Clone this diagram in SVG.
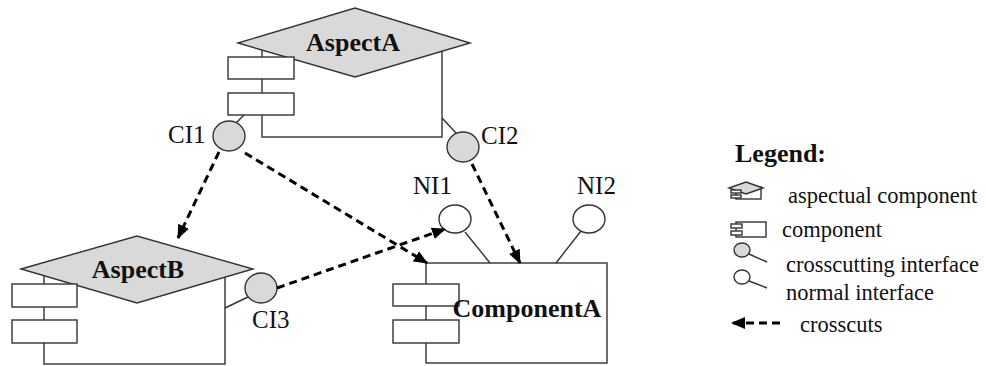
<svg xmlns="http://www.w3.org/2000/svg" width="986" height="366" viewBox="0 0 986 366">
<defs>
<style>
.body{fill:#fff;stroke:#333;stroke-width:1.4}
.tab{fill:#fff;stroke:#333;stroke-width:1.4}
.dia{fill:#d9d9d9;stroke:#333;stroke-width:1.4}
.ci{fill:#d9d9d9;stroke:#333;stroke-width:1.4}
.ni{fill:#fff;stroke:#333;stroke-width:1.4}
.stub{stroke:#333;stroke-width:1.4;fill:none}
.dash{stroke:#000;stroke-width:3;stroke-dasharray:8 5;fill:none}
text{font-family:'Liberation Serif','Times New Roman',serif;fill:#111}
.bold{font-weight:bold;font-size:26px}
.lbl{font-size:25px}
.leg{font-size:22.5px}
</style>
<marker id="ah" viewBox="0 0 14 12" refX="13" refY="6" markerWidth="14" markerHeight="12" markerUnits="userSpaceOnUse" orient="auto">
<path d="M0,0 L14,6 L0,12 z" fill="#000"/>
</marker>
</defs>
<rect width="986" height="366" fill="#fff"/>

<g id="aspectA">
<rect class="body" x="262" y="43" width="180" height="94"/>
<polygon class="dia" points="238,43 355,8 470,43 355,77"/>
<rect class="tab" x="228" y="57" width="66" height="22"/>
<rect class="tab" x="228" y="93" width="66" height="22"/>
<text class="bold" x="353" y="51" text-anchor="middle">AspectA</text>
</g>

<g id="aspectB">
<rect class="body" x="44" y="269" width="181" height="95"/>
<polygon class="dia" points="21,269 137,236 253,269 137,303"/>
<rect class="tab" x="12" y="284" width="65" height="23"/>
<rect class="tab" x="12" y="320" width="65" height="23"/>
<text class="bold" x="138" y="278" text-anchor="middle">AspectB</text>
</g>

<g id="componentA">
<rect class="body" x="426" y="263" width="181" height="100"/>
<rect class="tab" x="393" y="284" width="66" height="22"/>
<rect class="tab" x="393" y="320" width="66" height="23"/>
<text class="bold" x="527" y="317" text-anchor="middle">ComponentA</text>
</g>

<g id="CI1">
<line class="stub" x1="236" y1="123" x2="244" y2="115"/>
<ellipse class="ci" cx="229" cy="136" rx="16" ry="15"/>
<text class="lbl" x="168" y="143">CI1</text>
</g>

<g id="CI2">
<line class="stub" x1="442" y1="118" x2="457" y2="134"/>
<ellipse class="ci" cx="463" cy="147" rx="16" ry="15"/>
<text class="lbl" x="481" y="144">CI2</text>
</g>

<g id="CI3">
<line class="stub" x1="225" y1="308" x2="248" y2="297"/>
<ellipse class="ci" cx="261" cy="288" rx="16" ry="15"/>
<text class="lbl" x="252" y="328">CI3</text>
</g>

<g id="NI1">
<line class="stub" x1="465" y1="232" x2="490" y2="263"/>
<ellipse class="ni" cx="455" cy="219" rx="16" ry="14"/>
<text class="lbl" x="413" y="194">NI1</text>
</g>

<g id="NI2">
<line class="stub" x1="581" y1="231" x2="556" y2="263"/>
<ellipse class="ni" cx="589" cy="219" rx="16" ry="14"/>
<text class="lbl" x="577" y="194">NI2</text>
</g>

<g id="connectors">
<line class="dash" x1="219" y1="152" x2="178" y2="238" marker-end="url(#ah)"/>
<line class="dash" x1="245" y1="153" x2="427" y2="263" marker-end="url(#ah)"/>
<line class="dash" x1="472" y1="164" x2="520" y2="263" marker-end="url(#ah)"/>
<line class="dash" x1="277" y1="288" x2="445" y2="229" marker-end="url(#ah)"/>
</g>

<g id="legend">
<text class="bold" x="735" y="162">Legend:</text>
<g id="legend-aspectual">
<rect class="body" x="736" y="187" width="25" height="12"/>
<polygon class="dia" points="729,188 746,182 763,188 746,194"/>
<rect class="tab" x="731" y="190" width="10" height="3"/>
<rect class="tab" x="731" y="195" width="10" height="3"/>
<text class="leg" x="788" y="203">aspectual component</text>
</g>
<g id="legend-component">
<rect class="body" x="736" y="222" width="30" height="15"/>
<rect class="tab" x="731" y="224" width="11" height="4"/>
<rect class="tab" x="731" y="231" width="11" height="4"/>
<text class="leg" x="782" y="237">component</text>
</g>
<g id="legend-ci">
<line class="stub" x1="749" y1="254" x2="767" y2="262"/>
<ellipse class="ci" cx="742" cy="250" rx="8" ry="7"/>
<text class="leg" x="786" y="272">crosscutting interface</text>
</g>
<g id="legend-ni">
<line class="stub" x1="749" y1="281" x2="767" y2="288"/>
<ellipse class="ni" cx="742" cy="277" rx="8" ry="7"/>
<text class="leg" x="786" y="300">normal interface</text>
</g>
<g id="legend-crosscuts">
<line class="dash" x1="780" y1="323" x2="732" y2="323" stroke-dasharray="7 5" marker-end="url(#ah)"/>
<text class="leg" x="800" y="332">crosscuts</text>
</g>
</g>
</svg>
